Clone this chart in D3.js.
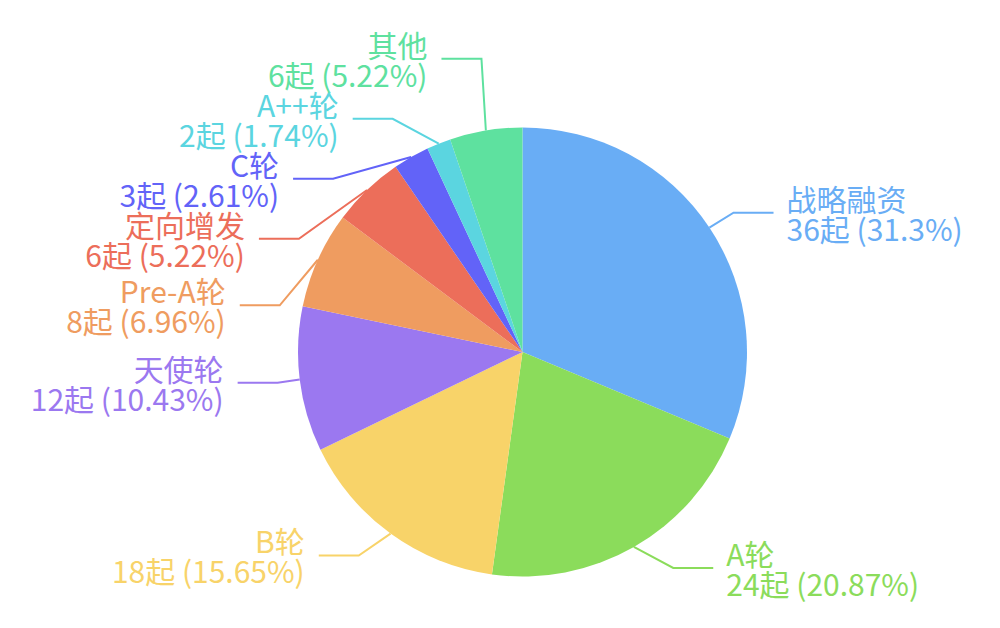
<!DOCTYPE html>
<html><head><meta charset="utf-8">
<script src="https://cdn.jsdelivr.net/npm/d3@7"></script>
<style>html,body{margin:0;padding:0;background:#fff;}svg{display:block;}</style>
</head><body><svg id="c" width="1000" height="628"></svg>
<script>
const categories = ["战略融资","A轮","B轮","天使轮","Pre-A轮","定向增发","C轮","A++轮","其他"];
const counts = [36,24,18,12,8,6,3,2,6];
const percents = ["31.3%","20.87%","15.65%","10.43%","6.96%","5.22%","2.61%","1.74%","5.22%"];
const colors = ["#69adf5","#8bdc5b","#f8d369","#9b78f0","#ef9c60","#ec6e5a","#6263f8","#5bd5e0","#5ee19f"];

const W = 1000, H = 628;
const cx = 522.5, cy = 352, r = 224.5;
const len1 = 27, len2 = 40, labelH = 60, labelDist = 5;
const svg = d3.select("#c");
const g = svg.append("g");

const data = categories.map((c,i)=>({name:c,value:counts[i],pct:percents[i],color:colors[i]}));
const pie = d3.pie().value(d=>d.value).sort(null);
const arcs = pie(data);
const arc = d3.arc().innerRadius(0).outerRadius(r);

g.selectAll("path.slice").data(arcs).join("path")
  .attr("class","slice")
  .attr("transform",`translate(${cx},${cy})`)
  .attr("d",arc)
  .attr("fill",d=>d.data.color);

// label layout (ECharts-like)
const layouts = arcs.map(a=>{
  const mid = (a.startAngle+a.endAngle)/2;
  const dx = Math.sin(mid), dy = -Math.cos(mid);
  const x1 = cx + r*dx, y1 = cy + r*dy;
  const x2 = cx + (r+len1)*dx, y2 = cy + (r+len1)*dy;
  const s = dx<0?-1:1;
  const x3 = x2 + s*len2;
  return {a, x1, y1, x: x3 + s*labelDist, y: y2, s};
});

function adjustSide(list, dir){
  list.sort((p,q)=>p.y-q.y);
  const n = list.length;
  function shiftUp(end, delta){
    for(let j=end;j>=0;j--){
      if(list[j].y-delta<0) break;
      list[j].y -= delta;
      if(j>0 && list[j].y > list[j-1].y+labelH) break;
    }
  }
  function shiftDown(start,end,delta){
    for(let j=start;j<end;j++){
      if(list[j].y+delta>H) break;
      list[j].y += delta;
      if(j>start && j+1<end && list[j+1].y > list[j].y+labelH){ shiftUp(j, delta/2); return; }
    }
    shiftUp(end-1, delta/2);
  }
  let lastY = 0;
  for(let i=0;i<n;i++){
    const delta = list[i].y - lastY;
    if(delta<0) shiftDown(i,n,-delta);
    lastY = list[i].y + labelH;
  }
  if(H-lastY<0) shiftUp(n-1, lastY-H);
  const up=[], down=[];
  list.forEach(l=>{ (l.y>=cy?down:up).push(l); });
  function changeX(lst, isDown){
    let last = isDown?Number.MAX_VALUE:0;
    lst.forEach(l=>{
      const dY = Math.abs(l.y-cy);
      const R = r+len1+len2;
      let dX = dY < r+len1 ? Math.sqrt(R*R-dY*dY) : Math.abs(l.x-cx);
      if(isDown && dX>=last) dX = last-10;
      if(!isDown && dX<=last) dX = last+10;
      l.x = cx + dX*dir;
      last = dX;
    });
  }
  changeX(up,false); changeX(down,true);
}
const left = layouts.filter(l=>l.s<0), right = layouts.filter(l=>l.s>0);
adjustSide(right,1); adjustSide(left,-1);

layouts.forEach(l=>{
  const endX = l.s<0 ? l.x + labelDist : l.x - labelDist;
  const bendX = endX - l.s*len2;
  l.pts = [[l.x1,l.y1],[bendX,l.y],[endX,l.y]];
  l.tx = l.s<0 ? endX - 14 : endX + 13;
});

const line = d3.line();
g.selectAll("path.lbl").data(layouts).join("path")
  .attr("class","lbl")
  .attr("d",d=>line(d.pts))
  .attr("fill","none")
  .attr("stroke",d=>d.a.data.color)
  .attr("stroke-width",2);

const txt = g.selectAll("text.lab").data(layouts).join("text")
  .attr("class","lab")
  .attr("text-anchor",d=>d.s<0?"end":"start")
  .attr("fill",d=>d.a.data.color)
  .style("font-family","'Noto Sans CJK SC','Noto Sans',sans-serif")
  .style("font-size","30px");
txt.append("tspan").attr("x",d=>d.tx).attr("y",d=>d.y-15).attr("dominant-baseline","central")
  .text(d=>d.a.data.name);
txt.append("tspan").attr("x",d=>d.tx).attr("y",d=>d.y+15).attr("dominant-baseline","central")
  .text(d=>`${d.a.data.value}起 (${d.a.data.pct})`);
</script></body></html>
